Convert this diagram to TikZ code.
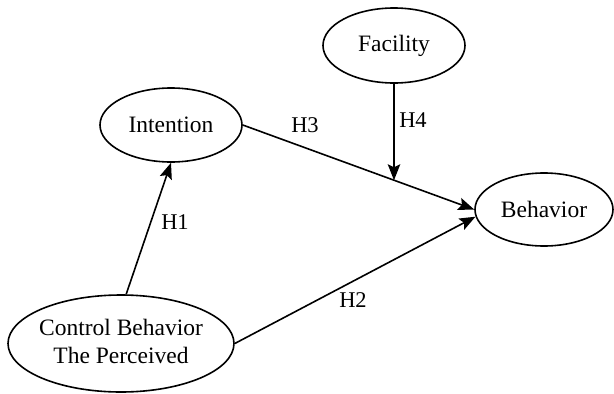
\documentclass[tikz,border=0pt]{standalone}
\usepackage{fontspec}
\setmainfont{Liberation Serif}
\usetikzlibrary{shapes.geometric,arrows.meta,calc}
\begin{document}
\begin{tikzpicture}[x=1pt,y=-1pt,
  ell/.style={draw, ellipse, line width=1.6pt, inner sep=0pt,
    font=\fontsize{23.5}{28}\selectfont},
  conn/.style={line width=1.6pt, -{Stealth[length=16pt,width=12.5pt,inset=3pt]}},
  hlab/.style={font=\fontsize{22.5}{27}\selectfont, inner sep=0pt}]
\useasboundingbox (0,0) rectangle (614,394);
\node[ell, minimum width=142pt, minimum height=75pt] (fac) at (394,45.5) {\makebox[0pt]{Facility}};
\node[ell, minimum width=142pt, minimum height=74pt] (int) at (171,125) {\makebox[0pt]{Intention}};
\node[ell, minimum width=138pt, minimum height=73pt] (beh) at (544,209.5) {\makebox[0pt]{Behavior}};
\node[ell, minimum width=226pt, minimum height=97pt] (ctrl) at (121,343.5)
  {\makebox[0pt]{\begin{tabular}{@{}c@{}}Control Behavior\\The Perceived\end{tabular}}};
\draw[conn] (ctrl.84) -- (int.south);
\draw[conn] (ctrl.east) -- (beh.186);
\draw[conn] (int.east) -- (beh.180);
\coordinate (m) at ($(int.east)!0.654!(beh.180)$);
\draw[conn] (fac.south) -- (fac.south |- m);
\node[hlab] (h1) at (175,222) {H1};
\node[hlab] (h2) at (353,300) {H2};
\node[hlab] (h3) at (305,125) {H3};
\node[hlab] (h4) at (413,120) {H4};
\end{tikzpicture}
\end{document}
